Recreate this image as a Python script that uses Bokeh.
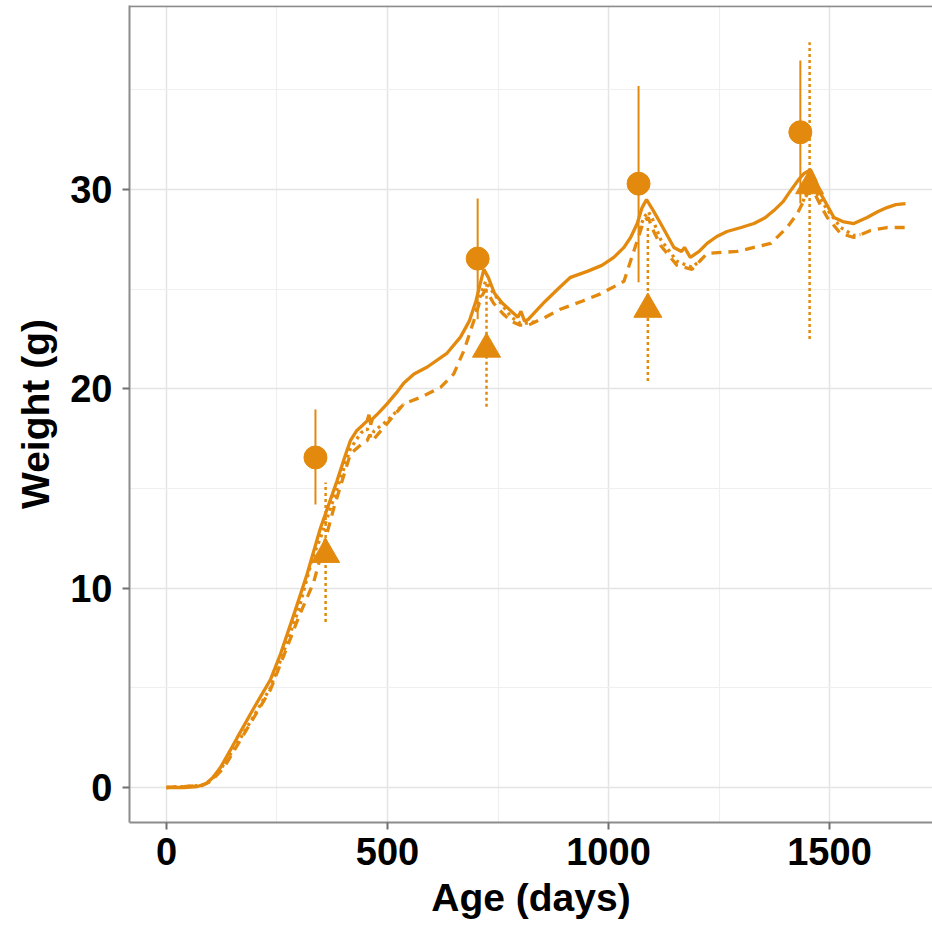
from bokeh.plotting import figure
from bokeh.models import Range1d, FixedTicker, Span
from bokeh.embed import file_html
from bokeh.resources import INLINE

ORANGE = "#E38A0E"
FONT = "Liberation Sans"
NaN = float("nan")

# observed means (circles, solid error bars)
circ_age = [337, 704, 1068, 1434]
circ_w = [16.56, 26.54, 30.3, 32.88]
circ_lo = [14.2, 23.5, 25.35, 29.3]
circ_hi = [18.97, 29.55, 35.2, 36.48]

# observed means (triangles, dotted error bars)
tri_age = [360, 724, 1089, 1455]
tri_w = [11.7, 22.0, 24.0, 30.2]
tri_lo = [8.3, 19.1, 20.4, 22.5]
tri_hi = [15.3, 25.3, 28.1, 37.4]

# model curve, solid
sol_age = [0, 40, 70, 90, 105, 122, 140, 160, 198, 235, 258, 290, 318, 348, 386, 405, 416, 430, 440, 454,
           458, 462, 466, 480, 499, 520, 537, 560, 590, 635, 665, 685, 700, 710, 718, 728, 742, 760, 780,
           795, 802, 810, 819, 840, 857, 885, 914, 952, 985, 1012, 1035, 1050, 1065, 1076, 1086, 1100,
           1118, 1148, 1165, 1172, 1185, 1205, 1223, 1245, 1268, 1300, 1329, 1355, 1374, 1395, 1412,
           1430, 1442, 1457, 1468, 1480, 1510, 1530, 1555, 1585, 1610, 1630, 1650, 1672]
sol_w = [0.0, 0.0, 0.05, 0.2, 0.5, 1.0, 1.7, 2.5, 4.0, 5.4, 6.7, 8.8, 10.7, 13.0, 15.4, 16.7, 17.4, 17.9,
         18.1, 18.4, 18.7, 18.2, 18.5, 18.8, 19.25, 19.8, 20.3, 20.75, 21.1, 21.8, 22.6, 23.4, 24.4, 25.3,
         26.0, 25.6, 24.8, 24.3, 23.9, 23.6, 23.9, 23.4, 23.5, 24.0, 24.4, 25.0, 25.6, 25.9, 26.2, 26.6,
         27.1, 27.6, 28.3, 29.1, 29.5, 29.0, 28.3, 27.1, 26.9, 27.1, 26.6, 26.9, 27.3, 27.65, 27.9, 28.1,
         28.3, 28.6, 28.95, 29.4, 29.95, 30.5, 30.8, 31.0, 30.5, 29.8, 28.6, 28.4, 28.3, 28.6, 28.9, 29.1,
         29.25, 29.3]

# model curve, dashed
das_age = [0, 80, 100, 130, 165, 200, 235, 265, 300, 333, 379, 416, 440, 454, 460, 466, 492, 537,
           575, 620, 650, 673, 695, 712, 722, 740, 760, 780, 800, 819, 857, 891, 940, 982, 1035,
           1057, 1080, 1090, 1100, 1118, 1155, 1189, 1223, 1291, 1367, 1404, 1427, 1450, 1462,
           1480, 1495, 1525, 1555, 1593, 1630, 1672]
das_w = [0.0, 0.1, 0.3, 1.0, 2.3, 3.6, 4.9, 6.6, 8.6, 10.3, 14.06, 16.74, 17.2, 17.41, 17.7, 17.4, 18.08, 19.25,
         19.58, 20.08, 20.76, 21.93, 23.4, 24.6, 25.0, 24.3, 23.8, 23.4, 23.2, 23.2, 23.6, 24.0, 24.4, 24.77, 25.4,
         26.9, 28.45, 28.6, 28.0, 27.2, 26.2, 26.0, 26.8, 26.9, 27.3, 28.1, 28.8, 29.8, 30.0,
         29.2, 28.6, 27.8, 27.6, 27.95, 28.1, 28.1]

# model curve, dotted (visible stretches only)
dot_age = [0, 80, 100, 122, 160, 198, 235, 265, 300, 330, 348, 386, 416, 440, 454, 462, 470, 499, 537,
           600, 700, 712, 722, 740, 760, 780, 800, 819, 840,
           1000, 1070, 1080, 1090, 1100, 1118, 1155, 1189, 1210,
           1300, 1440, 1450, 1462, 1480, 1495, 1525, 1555, 1570]
dot_w = [0.0, 0.1, 0.35, 0.9, 2.2, 3.6, 5.0, 6.8, 9.0, 11.5, 12.5, 15.0, 17.0, 17.8, 18.0, 17.6, 17.9, 18.4, 19.25,
         NaN, 23.9, 24.8, 25.4, 24.8, 24.2, 23.6, 23.3, 23.3, 23.4,
         NaN, 28.0, 28.6, 28.9, 28.5, 27.5, 26.4, 26.1, 26.5,
         NaN, 29.4, 30.0, 30.2, 29.5, 29.0, 28.1, 27.7, 27.75]

x_ticks = [0, 500, 1000, 1500]
x_minor = [250, 750, 1250]
y_ticks = [0, 10, 20, 30]
y_minor = [5, 15, 25, 35]

p = figure(width=932, height=924, output_backend="svg", toolbar_location=None,
           x_range=Range1d(-83.7, 1733), y_range=Range1d(-1.756, 39.24),
           min_border_left=129, min_border_top=5, min_border_right=0, min_border_bottom=102)
p.outline_line_color = None
p.background_fill_color = "white"
p.border_fill_color = "white"

p.xaxis.ticker = FixedTicker(ticks=x_ticks, minor_ticks=x_minor)
p.yaxis.ticker = FixedTicker(ticks=y_ticks, minor_ticks=y_minor)
p.xgrid.ticker = p.xaxis.ticker
p.ygrid.ticker = p.yaxis.ticker
for g in (p.xgrid, p.ygrid):
    g.grid_line_color = "#e4e4e4"
    g.grid_line_width = 1.5
    g.minor_grid_line_color = "#efefef"
    g.minor_grid_line_width = 1.2

for ax in (p.xaxis, p.yaxis):
    ax.axis_line_color = "#8c8c8c"
    ax.axis_line_width = 2
    ax.major_tick_line_color = "#707070"
    ax.major_tick_line_width = 2
    ax.major_tick_out = 7
    ax.major_tick_in = 0
    ax.minor_tick_line_color = None
    ax.major_label_text_font = FONT
    ax.major_label_text_font_style = "bold"
    ax.major_label_text_font_size = "38px"
    ax.major_label_text_color = "black"
    ax.axis_label_text_font = FONT
    ax.axis_label_text_font_style = "bold"
    ax.axis_label_text_font_size = "39px"
    ax.axis_label_text_color = "black"

p.xaxis.major_label_standoff = 8
p.yaxis.major_label_standoff = 10
p.xaxis.axis_label = "Age (days)"
p.yaxis.axis_label = "Weight (g)"
p.xaxis.axis_label_standoff = 8
p.yaxis.axis_label_standoff = 10

p.add_layout(Span(location=39.2, dimension="width", line_color="#8c8c8c", line_width=2))

p.line(sol_age, sol_w, line_color=ORANGE, line_width=3.3)
p.line(das_age, das_w, line_color=ORANGE, line_width=3.3, line_dash="10 7")
p.line(dot_age, dot_w, line_color=ORANGE, line_width=3.3, line_dash="3 4")

p.segment(x0=circ_age, y0=circ_lo, x1=circ_age, y1=circ_hi, line_color=ORANGE, line_width=2)
p.segment(x0=tri_age, y0=tri_lo, x1=tri_age, y1=tri_hi, line_color=ORANGE, line_width=2.5,
          line_dash="3 3")
p.scatter(circ_age, circ_w, marker="circle", size=23, fill_color=ORANGE, line_color=ORANGE)
p.scatter(tri_age, tri_w, marker="triangle", size=28, fill_color=ORANGE, line_color=ORANGE)

open("out.html", "w").write(file_html(p, INLINE))
